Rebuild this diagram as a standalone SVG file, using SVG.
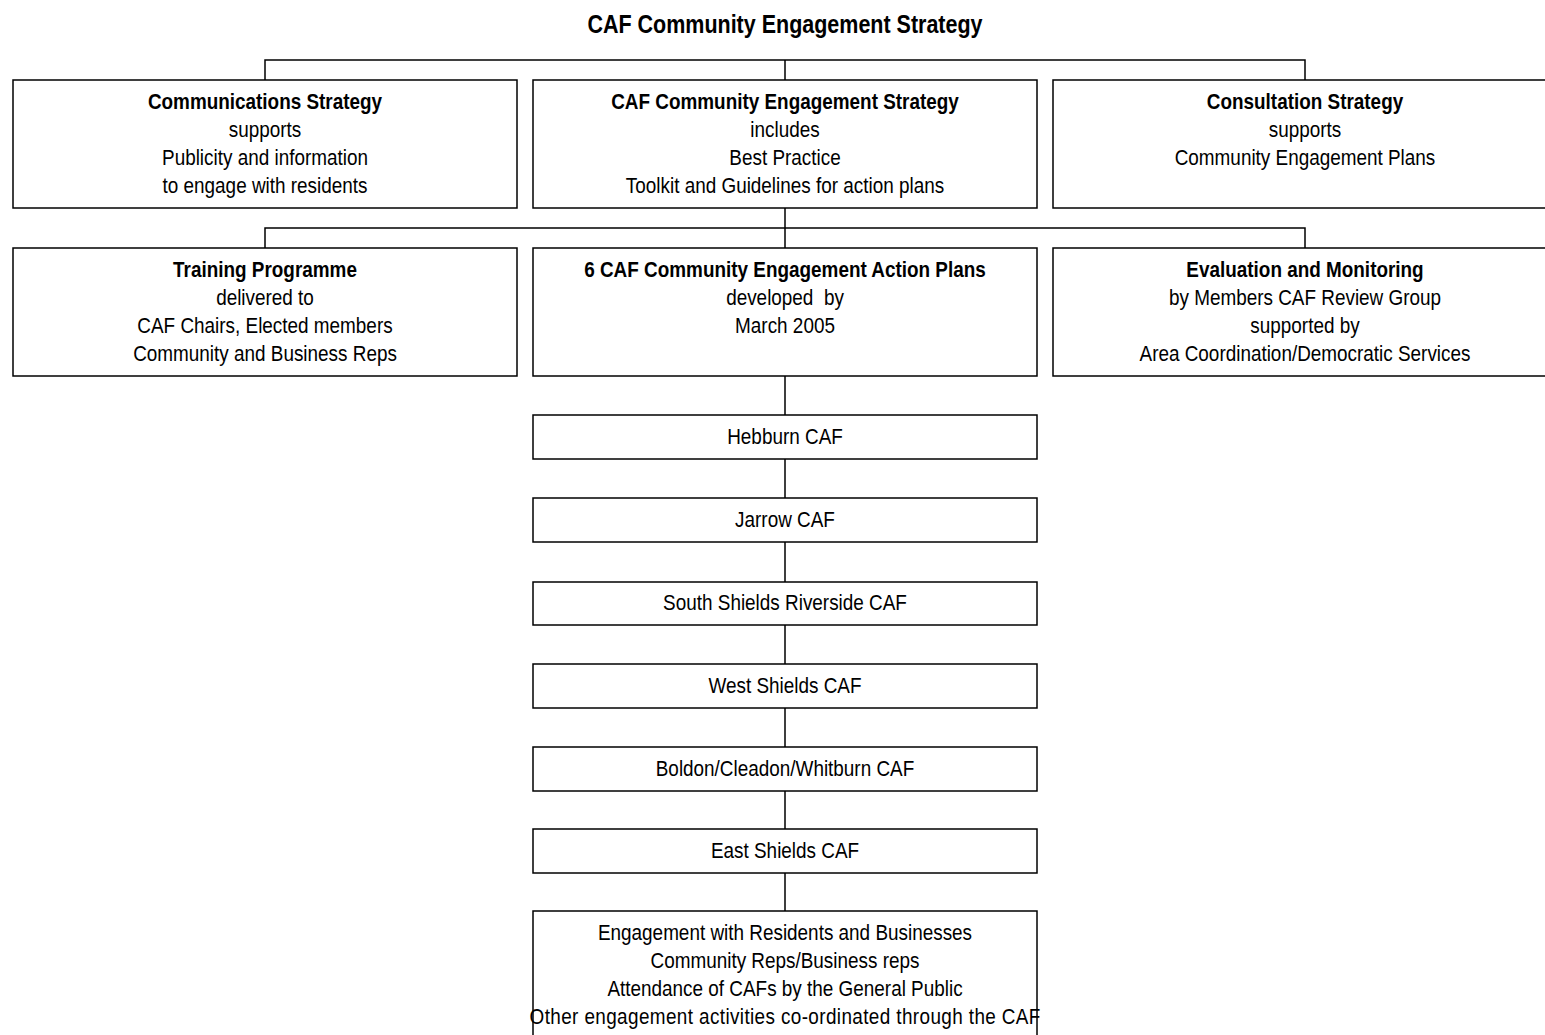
<svg xmlns="http://www.w3.org/2000/svg" width="1545" height="1035" viewBox="0 0 1545 1035">
<style>
.box{fill:#fff;stroke:#000;stroke-width:1.5}
.ln{fill:none;stroke:#000;stroke-width:1.5}
text{font-family:"Liberation Sans Narrow","Arial Narrow","Liberation Sans",Arial,sans-serif;font-size:22px;text-anchor:middle;fill:#000}
.b{font-weight:bold}
.t{font-size:25px}
</style>
<rect width="1545" height="1035" fill="#fff"/>
<g id="title" transform="translate(785 0) scale(0.86 1)"><text x="0" y="33" class="b t">CAF Community Engagement Strategy</text></g>
<g id="connectors">
<path class="ln" d="M265 80V60H1305V80M785 60V80"/>
<path class="ln" d="M785 208V248M265 248V228H1305V248"/>
<path class="ln" d="M785 376V415M785 459V498M785 542V582M785 625V664M785 708V747M785 791V829M785 873V911"/>
</g>
<g id="comms"><rect class="box" x="13" y="80" width="504" height="128"/>
<g transform="translate(265 0) scale(0.86 1)"><text x="0" y="109" class="b">Communications Strategy</text><text x="0" y="137">supports</text><text x="0" y="165">Publicity and information</text><text x="0" y="193">to engage with residents</text></g></g>
<g id="caf-strategy"><rect class="box" x="533" y="80" width="504" height="128"/>
<g transform="translate(785 0) scale(0.86 1)"><text x="0" y="109" class="b">CAF Community Engagement Strategy</text><text x="0" y="137">includes</text><text x="0" y="165">Best Practice</text><text x="0" y="193">Toolkit and Guidelines for action plans</text></g></g>
<g id="consultation"><rect class="box" x="1053" y="80" width="504" height="128"/>
<g transform="translate(1305 0) scale(0.86 1)"><text x="0" y="109" class="b">Consultation Strategy</text><text x="0" y="137">supports</text><text x="0" y="165">Community Engagement Plans</text></g></g>
<g id="training"><rect class="box" x="13" y="248" width="504" height="128"/>
<g transform="translate(265 0) scale(0.86 1)"><text x="0" y="277" class="b">Training Programme</text><text x="0" y="305">delivered to</text><text x="0" y="333">CAF Chairs, Elected members</text><text x="0" y="361">Community and Business Reps</text></g></g>
<g id="action-plans"><rect class="box" x="533" y="248" width="504" height="128"/>
<g transform="translate(785 0) scale(0.86 1)"><text x="0" y="277" class="b">6 CAF Community Engagement Action Plans</text><text x="0" y="305" xml:space="preserve">developed  by</text><text x="0" y="333">March 2005</text></g></g>
<g id="evaluation"><rect class="box" x="1053" y="248" width="504" height="128"/>
<g transform="translate(1305 0) scale(0.86 1)"><text x="0" y="277" class="b">Evaluation and Monitoring</text><text x="0" y="305">by Members CAF Review Group</text><text x="0" y="333">supported by</text><text x="0" y="361">Area Coordination/Democratic Services</text></g></g>
<g id="hebburn"><rect class="box" x="533" y="415" width="504" height="44"/><g transform="translate(785 0) scale(0.86 1)"><text x="0" y="444">Hebburn CAF</text></g></g>
<g id="jarrow"><rect class="box" x="533" y="498" width="504" height="44"/><g transform="translate(785 0) scale(0.86 1)"><text x="0" y="527">Jarrow CAF</text></g></g>
<g id="ss-riverside"><rect class="box" x="533" y="582" width="504" height="43"/><g transform="translate(785 0) scale(0.86 1)"><text x="0" y="610">South Shields Riverside CAF</text></g></g>
<g id="west-shields"><rect class="box" x="533" y="664" width="504" height="44"/><g transform="translate(785 0) scale(0.86 1)"><text x="0" y="693">West Shields CAF</text></g></g>
<g id="boldon"><rect class="box" x="533" y="747" width="504" height="44"/><g transform="translate(785 0) scale(0.86 1)"><text x="0" y="776">Boldon/Cleadon/Whitburn CAF</text></g></g>
<g id="east-shields"><rect class="box" x="533" y="829" width="504" height="44"/><g transform="translate(785 0) scale(0.86 1)"><text x="0" y="858">East Shields CAF</text></g></g>
<g id="engagement"><rect class="box" x="533" y="911" width="504" height="140"/>
<g transform="translate(785 0) scale(0.86 1)"><text x="0" y="940">Engagement with Residents and Businesses</text><text x="0" y="968">Community Reps/Business reps</text><text x="0" y="996">Attendance of CAFs by the General Public</text><text x="0" y="1024" textLength="594" lengthAdjust="spacing">Other engagement activities co-ordinated through the CAF</text></g></g>
</svg>
